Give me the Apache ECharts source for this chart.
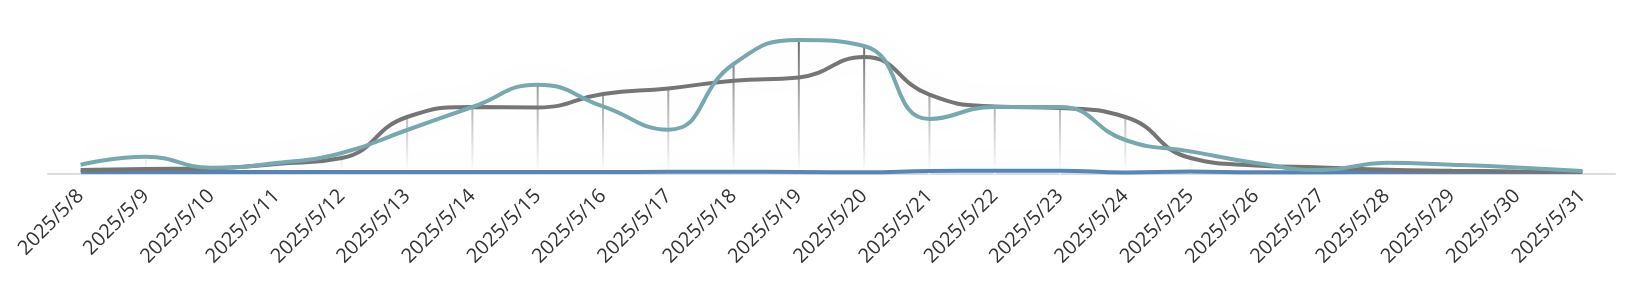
<!DOCTYPE html>
<html>
<head>
<meta charset="utf-8">
<script src="https://cdn.jsdelivr.net/npm/echarts@6/dist/echarts.min.js"></script>
<style>
html,body{margin:0;padding:0;background:#fff;}
#chart{width:1629px;height:282px;}
</style>
</head>
<body>
<div id="chart"></div>
<script>
var categories = ['2025/5/8','2025/5/9','2025/5/10','2025/5/11','2025/5/12','2025/5/13','2025/5/14','2025/5/15','2025/5/16','2025/5/17','2025/5/18','2025/5/19','2025/5/20','2025/5/21','2025/5/22','2025/5/23','2025/5/24','2025/5/25','2025/5/26','2025/5/27','2025/5/28','2025/5/29','2025/5/30','2025/5/31'];
var grayValues = [4, 5, 5.6, 10, 16, 57, 67, 66.6, 80, 85.6, 93.3, 96.6, 117, 79.3, 67.6, 66, 57, 16, 8.6, 6.6, 4.3, 3.3, 2.6, 2.3];
var tealValues = [9.3, 17.3, 6.3, 11, 21, 44, 67, 89.3, 67.6, 44.3, 110, 134, 128, 55, 67, 67, 34, 22.6, 11, 4, 11.3, 9.3, 6.6, 3];
var blueValues = [2, 2, 2, 2, 2, 2, 2, 2, 2, 2.2, 2.2, 2, 1.8, 3, 3.3, 3.3, 1.6, 2.4, 1.8, 1.8, 2, 2, 2, 2];
var dropValues = grayValues.map(function (v, i) { return Math.max(v, tealValues[i]); });

var chart = echarts.init(document.getElementById('chart'));
var lineShadow = { shadowColor: 'rgba(0,0,0,0.07)', shadowBlur: 30, shadowOffsetY: -4 };
chart.setOption({
  animation: false,
  grid: { left: 48, right: 14, top: 34, bottom: 108 },
  xAxis: {
    type: 'category',
    data: categories,
    boundaryGap: true,
    axisLine: { lineStyle: { color: '#dddddd', width: 2 } },
    axisTick: { show: false },
    axisLabel: {
      rotate: 45,
      interval: 0,
      margin: 19,
      color: '#333333',
      fontSize: 20,
      fontFamily: 'Open Sans'
    }
  },
  yAxis: {
    type: 'value',
    min: 0,
    max: 140,
    show: false,
    splitLine: { show: false }
  },
  series: [
    {
      name: 'blue', type: 'line', smooth: true, symbol: 'none',
      data: blueValues,
      lineStyle: Object.assign({ color: '#5a86b6', width: 4 }, lineShadow),
      itemStyle: { color: '#5a86b6' }
    },
    {
      name: 'drop', type: 'bar', barWidth: 2,
      data: dropValues,
      itemStyle: {
        color: new echarts.graphic.LinearGradient(0, 34, 0, 172, [
          { offset: 0, color: '#666666' },
          { offset: 1, color: '#ffffff' }
        ], true)
      }
    },
    {
      name: 'gray', type: 'line', smooth: true, symbol: 'none',
      data: grayValues,
      lineStyle: Object.assign({ color: '#767676', width: 4 }, lineShadow),
      itemStyle: { color: '#767676' }
    },
    {
      name: 'teal', type: 'line', smooth: true, symbol: 'none',
      data: tealValues,
      lineStyle: Object.assign({ color: '#77a8b0', width: 4 }, lineShadow),
      itemStyle: { color: '#77a8b0' }
    }
  ]
});
</script>
</body>
</html>
